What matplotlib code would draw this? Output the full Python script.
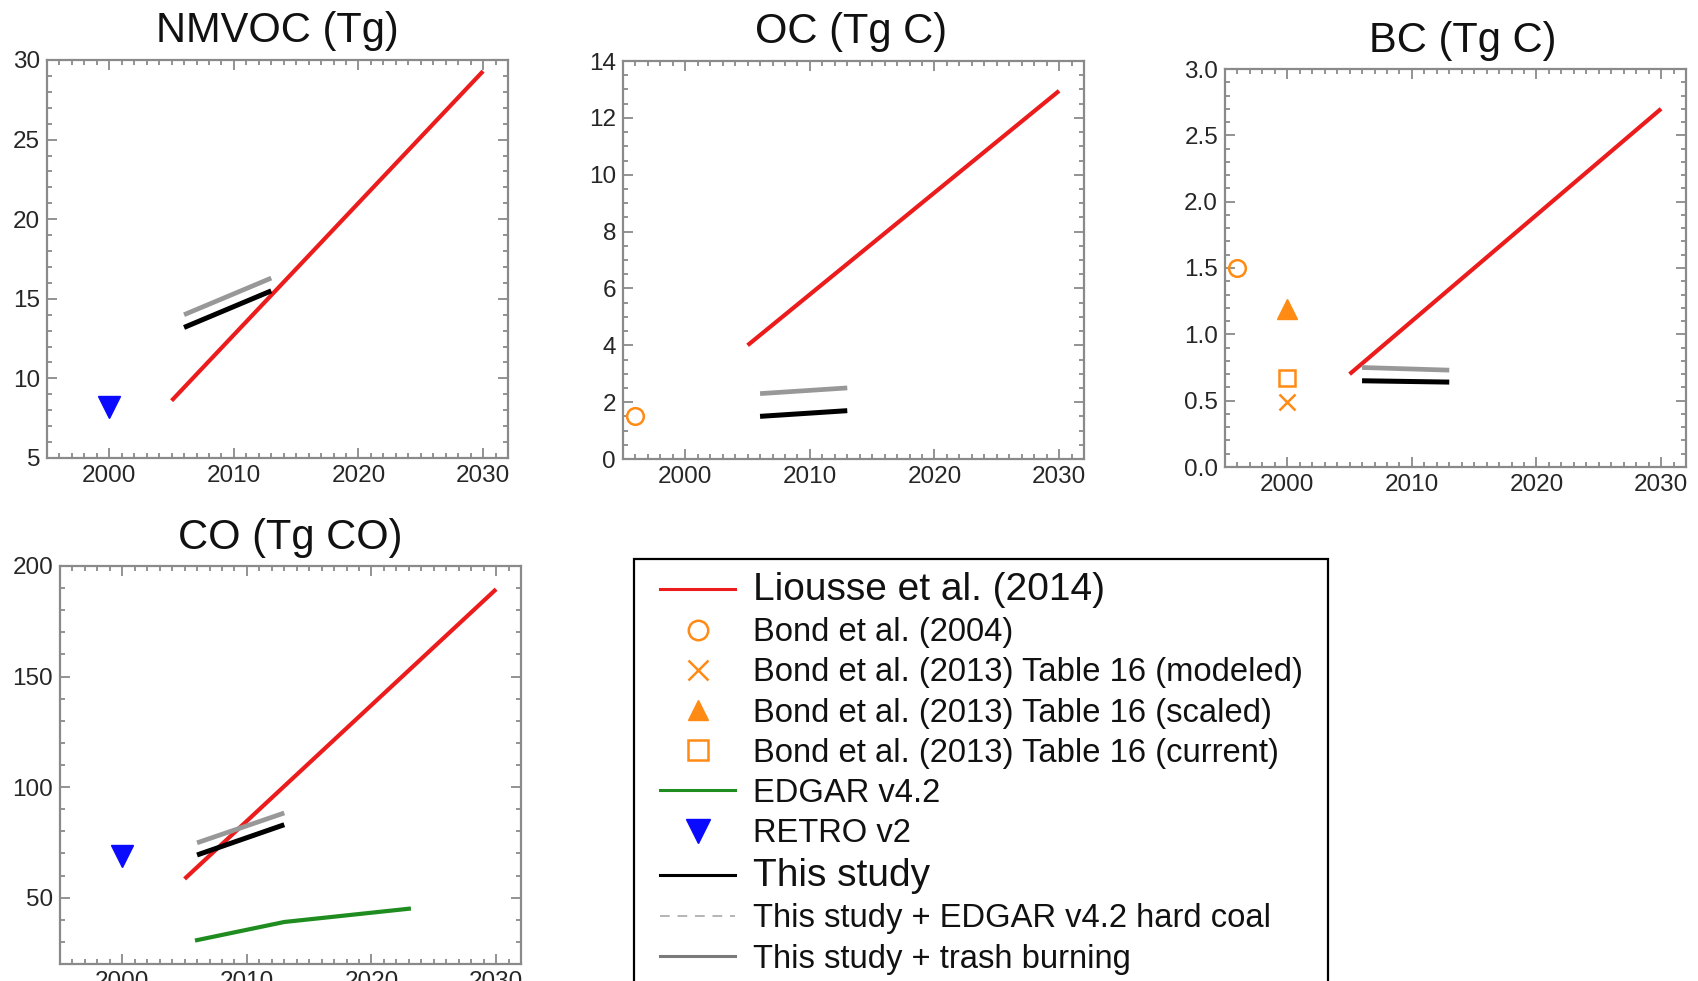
import matplotlib
matplotlib.use("Agg")
import matplotlib.pyplot as plt
from matplotlib.lines import Line2D
from matplotlib.patches import Rectangle
from matplotlib.ticker import MultipleLocator, FormatStrFormatter

plt.rcParams['font.family'] = ['Liberation Sans', 'DejaVu Sans']

# ---- data -------------------------------------------------------------
liousse_years = [2005, 2030]
study_years = [2006, 2013]
edgar_years = [2006, 2013, 2023]

nmvoc_liousse = [8.6, 29.3]
nmvoc_study = [13.2, 15.5]
nmvoc_trash = [14.0, 16.3]
nmvoc_retro = (2000, 8.2)

oc_liousse = [4.0, 12.95]
oc_study = [1.5, 1.7]
oc_trash = [2.3, 2.5]
oc_bond2004 = (1996, 1.5)

bc_liousse = [0.70, 2.70]
bc_study = [0.65, 0.64]
bc_trash = [0.75, 0.73]
bc_bond2004 = (1996, 1.5)
bc_bond2013_modeled = (2000, 0.49)
bc_bond2013_scaled = (2000, 1.19)
bc_bond2013_current = (2000, 0.67)

co_liousse = [58.5, 189.5]
co_study = [69.3, 83.0]
co_trash = [74.8, 88.3]
co_edgar = [30.8, 39.0, 45.0]
co_retro = (2000, 69.0)

titles = ["NMVOC (Tg)", "OC (Tg C)", "BC (Tg C)", "CO (Tg CO)"]
legend_labels = [
    "Liousse et al. (2014)",
    "Bond et al. (2004)",
    "Bond et al. (2013) Table 16 (modeled)",
    "Bond et al. (2013) Table 16 (scaled)",
    "Bond et al. (2013) Table 16 (current)",
    "EDGAR v4.2",
    "RETRO v2",
    "This study",
    "This study + EDGAR v4.2 hard coal",
    "This study + trash burning",
]

# ---- styles -----------------------------------------------------------
RED = '#ec1c1c'
ORANGE = '#ff8a14'
GREEN = '#1f8c1f'
BLUE = '#0a0aff'
GRAY = '#989898'
SPINE = '#8a8a8a'
TICKLAB = '#262626'

fig = plt.figure(figsize=(16.98, 9.81), dpi=100)
W, H = 1698.0, 981.0
AW, AH = 461.0 / W, 398.0 / H


def make_axes(left_px, bottom_px):
    return fig.add_axes([left_px / W, 1 - bottom_px / H, AW, AH])


def style(ax, title, ylim, ymajor, yminor, yfmt=None, pad=12, tx=0.5):
    ax.set_xlim(1995, 2032)
    ax.set_ylim(*ylim)
    ax.xaxis.set_major_locator(MultipleLocator(10))
    ax.xaxis.set_minor_locator(MultipleLocator(1))
    ax.yaxis.set_major_locator(MultipleLocator(ymajor))
    ax.yaxis.set_minor_locator(MultipleLocator(yminor))
    if yfmt:
        ax.yaxis.set_major_formatter(FormatStrFormatter(yfmt))
    for s in ax.spines.values():
        s.set_color(SPINE)
        s.set_linewidth(1.6)
    ax.tick_params(which='both', direction='in', top=True, right=True,
                   color=SPINE, width=1.3, labelsize=17.5, labelcolor=TICKLAB)
    ax.tick_params(which='major', length=7, pad=5)
    ax.tick_params(which='minor', length=3.5)
    ax.set_title(title, fontsize=30, pad=pad, color='#111111', x=tx)


def study_lines(ax, study, trash):
    ax.plot(study_years, trash, color=GRAY, lw=3.4, solid_capstyle='butt')
    ax.plot(study_years, study, color='black', lw=3.6, solid_capstyle='butt')


def liousse_line(ax, vals):
    ax.plot(liousse_years, vals, color=RED, lw=3.0, solid_capstyle='butt')


# NMVOC
ax1 = make_axes(47, 458)
style(ax1, titles[0], (5, 30), 5, 1, pad=13)
liousse_line(ax1, nmvoc_liousse)
study_lines(ax1, nmvoc_study, nmvoc_trash)
ax1.plot(*nmvoc_retro, marker='v', ms=16, color=BLUE, ls='none')

# OC
ax2 = make_axes(623, 459)
style(ax2, titles[1], (0, 14), 2, 0.5, pad=13, tx=0.495)
liousse_line(ax2, oc_liousse)
study_lines(ax2, oc_study, oc_trash)
ax2.plot(*oc_bond2004, marker='o', ms=12, mfc='none', mec=ORANGE, mew=1.8, ls='none')

# BC
ax3 = make_axes(1225, 467)
style(ax3, titles[2], (0, 3), 0.5, 0.1, '%.1f', pad=12, tx=0.515)
liousse_line(ax3, bc_liousse)
study_lines(ax3, bc_study, bc_trash)
ax3.plot(*bc_bond2004, marker='o', ms=12, mfc='none', mec=ORANGE, mew=1.8, ls='none')
ax3.plot(*bc_bond2013_modeled, marker='x', ms=12, mec=ORANGE, mew=1.8, ls='none')
ax3.plot(*bc_bond2013_scaled, marker='^', ms=14, color=ORANGE, ls='none')
ax3.plot(*bc_bond2013_current, marker='s', ms=12, mfc='none', mec=ORANGE, mew=1.8, ls='none')

# CO
ax4 = make_axes(60, 964)
style(ax4, titles[3], (20, 200), 50, 10, pad=12)
liousse_line(ax4, co_liousse)
study_lines(ax4, co_study, co_trash)
ax4.plot(edgar_years, co_edgar, color=GREEN, lw=3.0)
ax4.plot(*co_retro, marker='v', ms=16, color=BLUE, ls='none')

# ---- legend -----------------------------------------------------------
handles = [
    Line2D([], [], color=RED, lw=2.2),
    Line2D([], [], marker='o', ms=14, mfc='none', mec=ORANGE, mew=1.8, ls='none'),
    Line2D([], [], marker='x', ms=14, mec=ORANGE, mew=1.8, ls='none'),
    Line2D([], [], marker='^', ms=15, color=ORANGE, ls='none'),
    Line2D([], [], marker='s', ms=14, mfc='none', mec=ORANGE, mew=1.8, ls='none'),
    Line2D([], [], color=GREEN, lw=2.2),
    Line2D([], [], marker='v', ms=17, color=BLUE, ls='none'),
    Line2D([], [], color='black', lw=2.2),
    Line2D([], [], color='#b4b4b4', lw=1.4, ls=(0, (5, 4))),
    Line2D([], [], color='#7a7a7a', lw=2.2),
]
leg = fig.legend(handles, legend_labels, loc='upper left',
                 bbox_to_anchor=(660 / W, 1 - 572 / H),
                 fontsize=23.6, frameon=False, handlelength=2.3,
                 handletextpad=0.55, labelspacing=0.28, borderpad=0,
                 borderaxespad=0, markerscale=1.0)
for i, t in enumerate(leg.get_texts()):
    t.set_color('#111111')
    if i in (0, 7):
        t.set_fontsize(28)

# legend frame, running off the bottom of the figure
fig.patches.append(Rectangle((634 / W, -0.05), (1328 - 634) / W, (1 - 559 / H) + 0.05,
                             transform=fig.transFigure, fill=False,
                             edgecolor='black', linewidth=1.6))

fig.savefig("out.png", dpi=100)
